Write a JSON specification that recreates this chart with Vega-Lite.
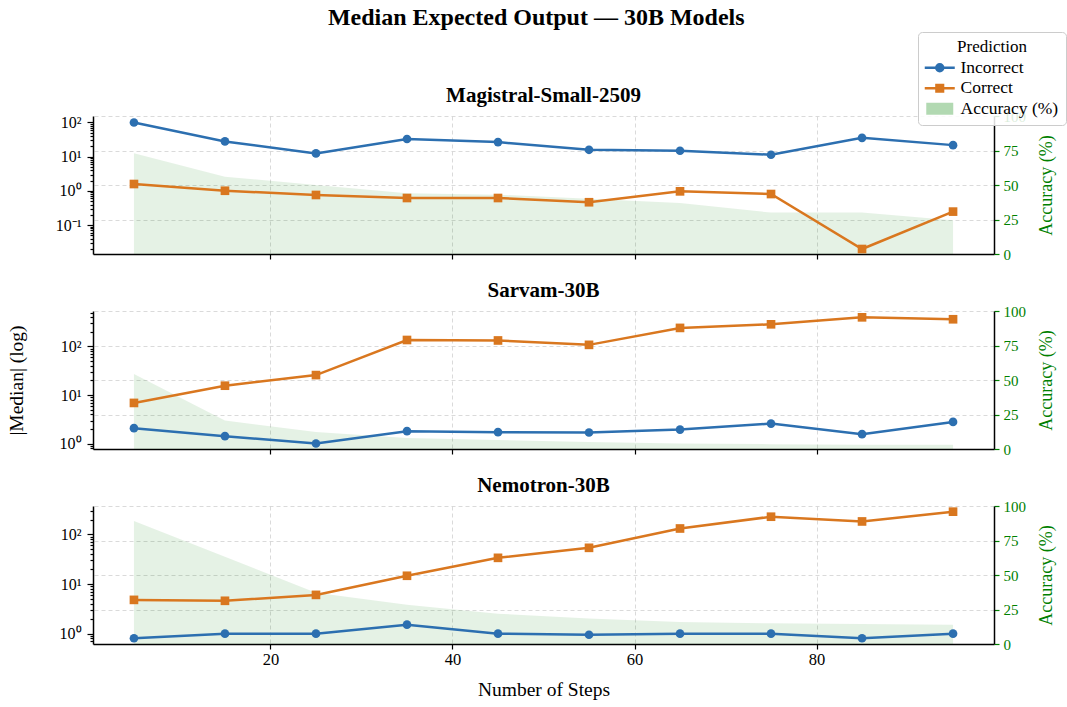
{
  "$schema": "https://vega.github.io/schema/vega-lite/v6.json",
  "padding": {"left": 6, "top": 5, "right": 0, "bottom": 5},
  "background": "white",
  "title": {"text": "Median Expected Output — 30B Models", "fontSize": 24, "font": "Liberation Serif", "fontWeight": "bold", "anchor": "middle", "offset": 2},
  "bounds": "flush",
  "spacing": 57,
  "datasets": {
    "med": [
      {"model": "Magistral-Small-2509", "steps": 5, "series": "Incorrect", "value": 100},
      {"model": "Magistral-Small-2509", "steps": 15, "series": "Incorrect", "value": 28},
      {"model": "Magistral-Small-2509", "steps": 25, "series": "Incorrect", "value": 12.5},
      {"model": "Magistral-Small-2509", "steps": 35, "series": "Incorrect", "value": 33},
      {"model": "Magistral-Small-2509", "steps": 45, "series": "Incorrect", "value": 26.7},
      {"model": "Magistral-Small-2509", "steps": 55, "series": "Incorrect", "value": 15.9},
      {"model": "Magistral-Small-2509", "steps": 65, "series": "Incorrect", "value": 14.9},
      {"model": "Magistral-Small-2509", "steps": 75, "series": "Incorrect", "value": 11.4},
      {"model": "Magistral-Small-2509", "steps": 85, "series": "Incorrect", "value": 35.6},
      {"model": "Magistral-Small-2509", "steps": 95, "series": "Incorrect", "value": 21.8},
      {"model": "Magistral-Small-2509", "steps": 5, "series": "Correct", "value": 1.59},
      {"model": "Magistral-Small-2509", "steps": 15, "series": "Correct", "value": 1.01},
      {"model": "Magistral-Small-2509", "steps": 25, "series": "Correct", "value": 0.76},
      {"model": "Magistral-Small-2509", "steps": 35, "series": "Correct", "value": 0.62},
      {"model": "Magistral-Small-2509", "steps": 45, "series": "Correct", "value": 0.62},
      {"model": "Magistral-Small-2509", "steps": 55, "series": "Correct", "value": 0.466},
      {"model": "Magistral-Small-2509", "steps": 65, "series": "Correct", "value": 0.97},
      {"model": "Magistral-Small-2509", "steps": 75, "series": "Correct", "value": 0.81},
      {"model": "Magistral-Small-2509", "steps": 85, "series": "Correct", "value": 0.02},
      {"model": "Magistral-Small-2509", "steps": 95, "series": "Correct", "value": 0.248},
      {"model": "Sarvam-30B", "steps": 5, "series": "Incorrect", "value": 2.09},
      {"model": "Sarvam-30B", "steps": 15, "series": "Incorrect", "value": 1.43},
      {"model": "Sarvam-30B", "steps": 25, "series": "Incorrect", "value": 1.01},
      {"model": "Sarvam-30B", "steps": 35, "series": "Incorrect", "value": 1.81},
      {"model": "Sarvam-30B", "steps": 45, "series": "Incorrect", "value": 1.73},
      {"model": "Sarvam-30B", "steps": 55, "series": "Incorrect", "value": 1.7},
      {"model": "Sarvam-30B", "steps": 65, "series": "Incorrect", "value": 1.95},
      {"model": "Sarvam-30B", "steps": 75, "series": "Incorrect", "value": 2.59},
      {"model": "Sarvam-30B", "steps": 85, "series": "Incorrect", "value": 1.57},
      {"model": "Sarvam-30B", "steps": 95, "series": "Incorrect", "value": 2.81},
      {"model": "Sarvam-30B", "steps": 5, "series": "Correct", "value": 6.9},
      {"model": "Sarvam-30B", "steps": 15, "series": "Correct", "value": 15.6},
      {"model": "Sarvam-30B", "steps": 25, "series": "Correct", "value": 25.8},
      {"model": "Sarvam-30B", "steps": 35, "series": "Correct", "value": 136},
      {"model": "Sarvam-30B", "steps": 45, "series": "Correct", "value": 133},
      {"model": "Sarvam-30B", "steps": 55, "series": "Correct", "value": 108},
      {"model": "Sarvam-30B", "steps": 65, "series": "Correct", "value": 241},
      {"model": "Sarvam-30B", "steps": 75, "series": "Correct", "value": 286},
      {"model": "Sarvam-30B", "steps": 85, "series": "Correct", "value": 398},
      {"model": "Sarvam-30B", "steps": 95, "series": "Correct", "value": 363},
      {"model": "Nemotron-30B", "steps": 5, "series": "Incorrect", "value": 0.81},
      {"model": "Nemotron-30B", "steps": 15, "series": "Incorrect", "value": 1.0},
      {"model": "Nemotron-30B", "steps": 25, "series": "Incorrect", "value": 1.0},
      {"model": "Nemotron-30B", "steps": 35, "series": "Incorrect", "value": 1.52},
      {"model": "Nemotron-30B", "steps": 45, "series": "Incorrect", "value": 1.0},
      {"model": "Nemotron-30B", "steps": 55, "series": "Incorrect", "value": 0.95},
      {"model": "Nemotron-30B", "steps": 65, "series": "Incorrect", "value": 1.0},
      {"model": "Nemotron-30B", "steps": 75, "series": "Incorrect", "value": 1.0},
      {"model": "Nemotron-30B", "steps": 85, "series": "Incorrect", "value": 0.81},
      {"model": "Nemotron-30B", "steps": 95, "series": "Incorrect", "value": 1.0},
      {"model": "Nemotron-30B", "steps": 5, "series": "Correct", "value": 4.8},
      {"model": "Nemotron-30B", "steps": 15, "series": "Correct", "value": 4.6},
      {"model": "Nemotron-30B", "steps": 25, "series": "Correct", "value": 6.05},
      {"model": "Nemotron-30B", "steps": 35, "series": "Correct", "value": 14.7},
      {"model": "Nemotron-30B", "steps": 45, "series": "Correct", "value": 33.8},
      {"model": "Nemotron-30B", "steps": 55, "series": "Correct", "value": 53.8},
      {"model": "Nemotron-30B", "steps": 65, "series": "Correct", "value": 132},
      {"model": "Nemotron-30B", "steps": 75, "series": "Correct", "value": 228},
      {"model": "Nemotron-30B", "steps": 85, "series": "Correct", "value": 183},
      {"model": "Nemotron-30B", "steps": 95, "series": "Correct", "value": 288}
    ],
    "acc": [
      {"model": "Magistral-Small-2509", "steps": 5, "acc": 73},
      {"model": "Magistral-Small-2509", "steps": 15, "acc": 56},
      {"model": "Magistral-Small-2509", "steps": 25, "acc": 50},
      {"model": "Magistral-Small-2509", "steps": 35, "acc": 44},
      {"model": "Magistral-Small-2509", "steps": 45, "acc": 43},
      {"model": "Magistral-Small-2509", "steps": 55, "acc": 40},
      {"model": "Magistral-Small-2509", "steps": 65, "acc": 37},
      {"model": "Magistral-Small-2509", "steps": 75, "acc": 30},
      {"model": "Magistral-Small-2509", "steps": 85, "acc": 30},
      {"model": "Magistral-Small-2509", "steps": 95, "acc": 24.5},
      {"model": "Sarvam-30B", "steps": 5, "acc": 54.3},
      {"model": "Sarvam-30B", "steps": 15, "acc": 20.6},
      {"model": "Sarvam-30B", "steps": 25, "acc": 12.3},
      {"model": "Sarvam-30B", "steps": 35, "acc": 7.9},
      {"model": "Sarvam-30B", "steps": 45, "acc": 6.5},
      {"model": "Sarvam-30B", "steps": 55, "acc": 5},
      {"model": "Sarvam-30B", "steps": 65, "acc": 4},
      {"model": "Sarvam-30B", "steps": 75, "acc": 3.5},
      {"model": "Sarvam-30B", "steps": 85, "acc": 3},
      {"model": "Sarvam-30B", "steps": 95, "acc": 3},
      {"model": "Nemotron-30B", "steps": 5, "acc": 89.2},
      {"model": "Nemotron-30B", "steps": 15, "acc": 63.3},
      {"model": "Nemotron-30B", "steps": 25, "acc": 37.2},
      {"model": "Nemotron-30B", "steps": 35, "acc": 28.5},
      {"model": "Nemotron-30B", "steps": 45, "acc": 22},
      {"model": "Nemotron-30B", "steps": 55, "acc": 18.5},
      {"model": "Nemotron-30B", "steps": 65, "acc": 16},
      {"model": "Nemotron-30B", "steps": 75, "acc": 15},
      {"model": "Nemotron-30B", "steps": 85, "acc": 14.5},
      {"model": "Nemotron-30B", "steps": 95, "acc": 14}
    ]
  },
  "vconcat": [
    {
      "title": {"text": "Magistral-Small-2509", "frame": "group", "fontSize": 21, "fontWeight": "bold", "font": "Liberation Serif", "offset": 3},
      "width": 901, "height": 138,
      "resolve": {"scale": {"y": "independent"}},
      "layer": [
        {
          "data": {"name": "acc"},
          "transform": [{"filter": "datum.model === 'Magistral-Small-2509'"}],
          "mark": {"type": "area", "color": "#008000", "opacity": 0.1},
          "encoding": {
            "x": {"field": "steps", "type": "quantitative", "scale": {"domain": [0.5, 99.5], "nice": false, "zero": false}, "axis": {"values": [20, 40, 60, 80], "labels": false, "title": null, "tickSize": 5, "grid": true}},
            "y": {"field": "acc", "type": "quantitative", "scale": {"domain": [0, 100], "nice": false}, "axis": {"orient": "right", "values": [0, 25, 50, 75, 100], "labelColor": "#008000", "tickColor": "#008000", "title": "Accuracy (%)", "titleColor": "#008000", "titleAngle": -90, "titlePadding": 30, "titleFontSize": 18, "labelFlush": false, "tickSize": 5, "labelPadding": 4, "labelFontSize": 15}}
          }
        },
        {
          "data": {"name": "med"},
          "transform": [{"filter": "datum.model === 'Magistral-Small-2509'"}],
          "encoding": {
            "x": {"field": "steps", "type": "quantitative", "scale": {"domain": [0.5, 99.5], "nice": false, "zero": false}, "axis": {"values": [20, 40, 60, 80], "labels": false, "title": null, "tickSize": 5, "grid": true}},
            "y": {"field": "value", "type": "quantitative", "scale": {"type": "log", "domain": [0.01429, 154.9], "nice": false},
              "axis": {"orient": "left", "title": null, "labelFontSize": 16, "labelPadding": 6, "labelOverlap": false, "labelFlush": false, "labelBound": false,
                "values": [0.02, 0.03, 0.04, 0.05, 0.06, 0.07, 0.08, 0.09, 0.1, 0.2, 0.3, 0.4, 0.5, 0.6, 0.7, 0.8, 0.9, 1, 2, 3, 4, 5, 6, 7, 8, 9, 10, 20, 30, 40, 50, 60, 70, 80, 90, 100],
                "labelExpr": "datum.value == 100 ? '10²' : datum.value == 10 ? '10¹' : datum.value == 1 ? '10⁰' : datum.value == 0.1 ? '10⁻¹' : ''",
                "tickSize": {"condition": {"test": "indexof([0.1, 1, 10, 100], datum.value) >= 0", "value": 6}, "value": 3},
                "gridOpacity": {"condition": {"test": "indexof([0.1, 1, 10, 100], datum.value) >= 0", "value": 1}, "value": 0}}},
            "color": {"field": "series", "type": "nominal", "scale": {"domain": ["Incorrect", "Correct", "Accuracy (%)"], "range": ["#2c6fb0", "#d9771f", "#008000"]},
              "legend": {"title": "Prediction", "orient": "none", "legendX": 825, "legendY": -84,
                "encode": {"symbols": {"update": {
                  "shape": {"signal": "datum.value === 'Incorrect' ? 'M-1.5,0H1.5M0.35,0A0.35,0.35 0 1,1 -0.35,0A0.35,0.35 0 1,1 0.35,0Z' : datum.value === 'Correct' ? 'M-1.5,0H1.5M-0.33,-0.33H0.33V0.33H-0.33Z' : 'M-1.35,-0.6H1.35V0.6H-1.35Z'"},
                  "fill": {"signal": "datum.value === 'Incorrect' ? '#2c6fb0' : datum.value === 'Correct' ? '#d9771f' : '#008000'"},
                  "fillOpacity": {"signal": "datum.value === 'Accuracy (%)' ? 0.3 : 1"},
                  "stroke": {"signal": "datum.value === 'Incorrect' ? '#2c6fb0' : datum.value === 'Correct' ? '#d9771f' : '#ffffff'"},
                  "strokeOpacity": {"signal": "datum.value === 'Accuracy (%)' ? 0 : 1"},
                  "strokeWidth": {"signal": "datum.value === 'Accuracy (%)' ? 0 : 2.5"},
                  "opacity": {"value": 1}}}}}}
          },
          "layer": [
            {"mark": {"type": "line", "strokeWidth": 2.5}},
            {"mark": {"type": "point", "filled": true, "opacity": 1, "size": 75},
             "encoding": {"shape": {"field": "series", "type": "nominal", "scale": {"domain": ["Incorrect", "Correct"], "range": ["circle", "square"]}, "legend": null}}}
          ]
        }
      ]
    },
    {
      "title": {"text": "Sarvam-30B", "frame": "group", "fontSize": 21, "fontWeight": "bold", "font": "Liberation Serif", "offset": 3},
      "width": 901, "height": 138,
      "resolve": {"scale": {"y": "independent"}},
      "layer": [
        {
          "data": {"name": "acc"},
          "transform": [{"filter": "datum.model === 'Sarvam-30B'"}],
          "mark": {"type": "area", "color": "#008000", "opacity": 0.1},
          "encoding": {
            "x": {"field": "steps", "type": "quantitative", "scale": {"domain": [0.5, 99.5], "nice": false, "zero": false}, "axis": {"values": [20, 40, 60, 80], "labels": false, "title": null, "tickSize": 5, "grid": true}},
            "y": {"field": "acc", "type": "quantitative", "scale": {"domain": [0, 100], "nice": false}, "axis": {"orient": "right", "values": [0, 25, 50, 75, 100], "labelColor": "#008000", "tickColor": "#008000", "title": "Accuracy (%)", "titleColor": "#008000", "titleAngle": -90, "titlePadding": 30, "titleFontSize": 18, "labelFlush": false, "tickSize": 5, "labelPadding": 4, "labelFontSize": 15}}
          }
        },
        {
          "data": {"name": "med"},
          "transform": [{"filter": "datum.model === 'Sarvam-30B'"}],
          "encoding": {
            "x": {"field": "steps", "type": "quantitative", "scale": {"domain": [0.5, 99.5], "nice": false, "zero": false}, "axis": {"values": [20, 40, 60, 80], "labels": false, "title": null, "tickSize": 5, "grid": true}},
            "y": {"field": "value", "type": "quantitative", "scale": {"type": "log", "domain": [0.778, 537], "nice": false},
              "axis": {"orient": "left", "title": "|Median| (log)", "titlePadding": 33, "titleFontSize": 19.5, "labelFontSize": 16, "labelPadding": 6, "labelOverlap": false, "labelFlush": false, "labelBound": false,
                "values": [0.8, 0.9, 1, 2, 3, 4, 5, 6, 7, 8, 9, 10, 20, 30, 40, 50, 60, 70, 80, 90, 100, 200, 300, 400, 500],
                "labelExpr": "datum.value == 100 ? '10²' : datum.value == 10 ? '10¹' : datum.value == 1 ? '10⁰' : datum.value == 0.1 ? '10⁻¹' : ''",
                "tickSize": {"condition": {"test": "indexof([0.1, 1, 10, 100], datum.value) >= 0", "value": 6}, "value": 3},
                "gridOpacity": {"condition": {"test": "indexof([0.1, 1, 10, 100], datum.value) >= 0", "value": 1}, "value": 0}}},
            "color": {"field": "series", "type": "nominal", "scale": {"domain": ["Incorrect", "Correct", "Accuracy (%)"], "range": ["#2c6fb0", "#d9771f", "#008000"]}}
          },
          "layer": [
            {"mark": {"type": "line", "strokeWidth": 2.5}},
            {"mark": {"type": "point", "filled": true, "opacity": 1, "size": 75},
             "encoding": {"shape": {"field": "series", "type": "nominal", "scale": {"domain": ["Incorrect", "Correct"], "range": ["circle", "square"]}, "legend": null}}}
          ]
        }
      ]
    },
    {
      "title": {"text": "Nemotron-30B", "frame": "group", "fontSize": 21, "fontWeight": "bold", "font": "Liberation Serif", "offset": 3},
      "width": 901, "height": 138,
      "resolve": {"scale": {"y": "independent"}},
      "layer": [
        {
          "data": {"name": "acc"},
          "transform": [{"filter": "datum.model === 'Nemotron-30B'"}],
          "mark": {"type": "area", "color": "#008000", "opacity": 0.1},
          "encoding": {
            "x": {"field": "steps", "type": "quantitative", "scale": {"domain": [0.5, 99.5], "nice": false, "zero": false}, "axis": {"values": [20, 40, 60, 80], "labels": true, "title": "Number of Steps", "tickSize": 5, "grid": true, "titlePadding": 13, "titleFontSize": 19.5, "labelFontSize": 16.5}},
            "y": {"field": "acc", "type": "quantitative", "scale": {"domain": [0, 100], "nice": false}, "axis": {"orient": "right", "values": [0, 25, 50, 75, 100], "labelColor": "#008000", "tickColor": "#008000", "title": "Accuracy (%)", "titleColor": "#008000", "titleAngle": -90, "titlePadding": 30, "titleFontSize": 18, "labelFlush": false, "tickSize": 5, "labelPadding": 4, "labelFontSize": 15}}
          }
        },
        {
          "data": {"name": "med"},
          "transform": [{"filter": "datum.model === 'Nemotron-30B'"}],
          "encoding": {
            "x": {"field": "steps", "type": "quantitative", "scale": {"domain": [0.5, 99.5], "nice": false, "zero": false}, "axis": {"values": [20, 40, 60, 80], "labels": true, "title": "Number of Steps", "tickSize": 5, "grid": true, "titlePadding": 13, "titleFontSize": 19.5, "labelFontSize": 16.5}},
            "y": {"field": "value", "type": "quantitative", "scale": {"type": "log", "domain": [0.619, 375], "nice": false},
              "axis": {"orient": "left", "title": null, "labelFontSize": 16, "labelPadding": 6, "labelOverlap": false, "labelFlush": false, "labelBound": false,
                "values": [0.7, 0.8, 0.9, 1, 2, 3, 4, 5, 6, 7, 8, 9, 10, 20, 30, 40, 50, 60, 70, 80, 90, 100, 200, 300],
                "labelExpr": "datum.value == 100 ? '10²' : datum.value == 10 ? '10¹' : datum.value == 1 ? '10⁰' : datum.value == 0.1 ? '10⁻¹' : ''",
                "tickSize": {"condition": {"test": "indexof([0.1, 1, 10, 100], datum.value) >= 0", "value": 6}, "value": 3},
                "gridOpacity": {"condition": {"test": "indexof([0.1, 1, 10, 100], datum.value) >= 0", "value": 1}, "value": 0}}},
            "color": {"field": "series", "type": "nominal", "scale": {"domain": ["Incorrect", "Correct", "Accuracy (%)"], "range": ["#2c6fb0", "#d9771f", "#008000"]}}
          },
          "layer": [
            {"mark": {"type": "line", "strokeWidth": 2.5}},
            {"mark": {"type": "point", "filled": true, "opacity": 1, "size": 75},
             "encoding": {"shape": {"field": "series", "type": "nominal", "scale": {"domain": ["Incorrect", "Correct"], "range": ["circle", "square"]}, "legend": null}}}
          ]
        }
      ]
    }
  ],
  "config": {
    "view": {"stroke": null},
    "font": "Liberation Serif",
    "axis": {"labelFont": "Liberation Serif", "titleFont": "Liberation Serif", "labelFontSize": 15, "titleFontSize": 16, "titleFontWeight": "normal", "labelColor": "#000000", "titleColor": "#000000", "domainColor": "#000000", "tickColor": "#000000", "domainWidth": 1.5, "tickWidth": 1.2, "gridColor": "#d0d0d0", "gridDash": [4, 3], "gridWidth": 0.8, "labelFlush": false},
    "legend": {"titleFont": "Liberation Serif", "titleFontSize": 17, "titleFontWeight": "normal", "titleAnchor": "middle", "titleColor": "#000000", "labelFont": "Liberation Serif", "labelFontSize": 17.5, "labelColor": "#000000", "symbolSize": 400, "padding": 7, "fillColor": "rgba(255,255,255,0.85)", "strokeColor": "#cccccc", "cornerRadius": 4, "rowPadding": 1.5, "labelOffset": 12, "symbolOffset": 6, "titlePadding": 3}
  }
}
